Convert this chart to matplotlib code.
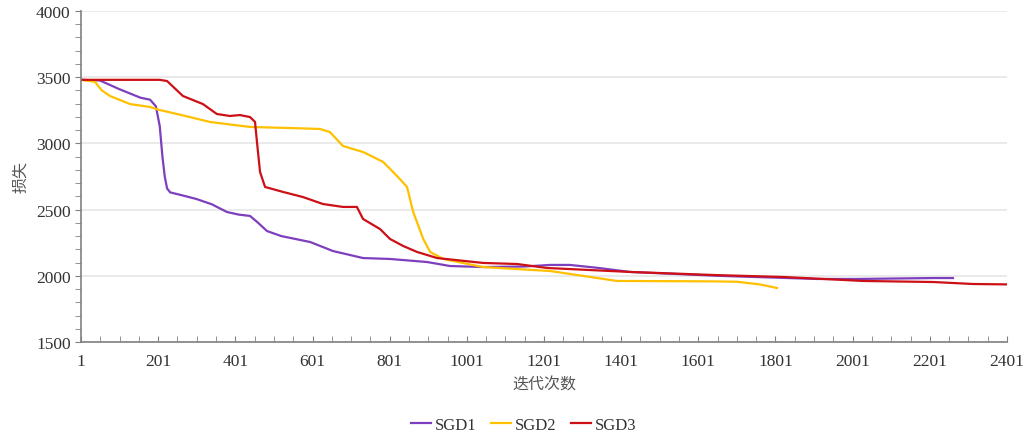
import matplotlib.pyplot as plt
from matplotlib.ticker import MultipleLocator, FixedLocator

plt.rcParams['font.family'] = ['Liberation Serif', 'Noto Sans CJK SC', 'DejaVu Sans']

# iteration / loss points
sgd1_x = [1, 50, 100, 155, 180, 195, 205, 212, 218, 224, 232, 260, 300, 340, 379, 410, 439,
          460, 483, 520, 595, 654, 732, 802, 898, 957, 1043, 1150, 1217, 1268, 1340, 1424,
          1650, 1909, 2012, 2210, 2261]
sgd1_y = [3480, 3475, 3410, 3345, 3330, 3280, 3131, 2900, 2750, 2660, 2630, 2610, 2580, 2540,
          2482, 2462, 2452, 2400, 2338, 2300, 2255, 2187, 2134, 2127, 2104, 2074, 2066, 2070,
          2082, 2082, 2060, 2029, 2000, 1976, 1976, 1983, 1983]

sgd2_x = [1, 37, 55, 76, 128, 180, 201, 260, 335, 439, 543, 620, 646, 680, 732, 784, 820, 846,
          862, 888, 906, 940, 1043, 1217, 1390, 1631, 1701, 1760, 1805]
sgd2_y = [3480, 3465, 3400, 3358, 3297, 3275, 3255, 3215, 3162, 3124, 3116, 3109, 3086, 2980,
          2935, 2860, 2754, 2671, 2482, 2278, 2180, 2127, 2066, 2036, 1961, 1958, 1955, 1935,
          1908]

sgd3_x = [1, 205, 224, 265, 317, 353, 387, 413, 439, 452, 457, 465, 478, 525, 576, 628, 680,
          716, 732, 776, 802, 836, 872, 924, 1043, 1131, 1209, 1424, 1650, 1821, 2028, 2210,
          2313, 2401]
sgd3_y = [3480, 3480, 3471, 3358, 3297, 3222, 3207, 3214, 3199, 3162, 3011, 2784, 2671, 2633,
          2595, 2542, 2520, 2520, 2429, 2353, 2278, 2225, 2180, 2134, 2097, 2089, 2059, 2029,
          2005, 1991, 1961, 1953, 1938, 1935]

series_names = ['SGD1', 'SGD2', 'SGD3']
colors = ['#7E3FBF', '#FFC000', '#CC1016']

fig = plt.figure(figsize=(10.27, 4.39), dpi=100)
ax = fig.add_axes([0.0789, 0.2187, 0.9016, 0.754])

for xs, ys, name, c in zip([sgd1_x, sgd2_x, sgd3_x], [sgd1_y, sgd2_y, sgd3_y],
                           series_names, colors):
    ax.plot(xs, ys, color=c, lw=1.6, label=name)

ax.set_xlim(1, 2401)
ax.set_ylim(1500, 4000)
ax.xaxis.set_major_locator(FixedLocator(list(range(1, 2402, 200))))
ax.xaxis.set_minor_locator(FixedLocator(list(range(1, 2402, 50))))
ax.yaxis.set_major_locator(MultipleLocator(500))
ax.yaxis.set_minor_locator(MultipleLocator(100))
ax.grid(axis='y', which='major', color='#e6e6e6', lw=1.2)
ax.set_axisbelow(True)

for s in ['top', 'right']:
    ax.spines[s].set_visible(False)
for s in ['left', 'bottom']:
    ax.spines[s].set_color('#808080')
    ax.spines[s].set_linewidth(1.2)

ax.tick_params(axis='x', which='both', direction='in', length=4, color='#808080',
               labelsize=12.5, pad=8, labelcolor='#333333')
ax.tick_params(axis='y', which='both', direction='out', length=4, color='#808080',
               labelsize=12.5, labelcolor='#333333')

ax.set_xlabel('迭代次数', fontsize=11.5, color='#555555', labelpad=5)
ax.set_ylabel('损失', fontsize=11.5, color='#555555', labelpad=5)

fig.legend(*ax.get_legend_handles_labels(), loc='center', bbox_to_anchor=(0.51, 0.03),
           ncol=3, frameon=False, fontsize=12, handlelength=1.2, handletextpad=0.2,
           columnspacing=0.9, labelcolor='#333333')

fig.savefig('out.png', dpi=100)
